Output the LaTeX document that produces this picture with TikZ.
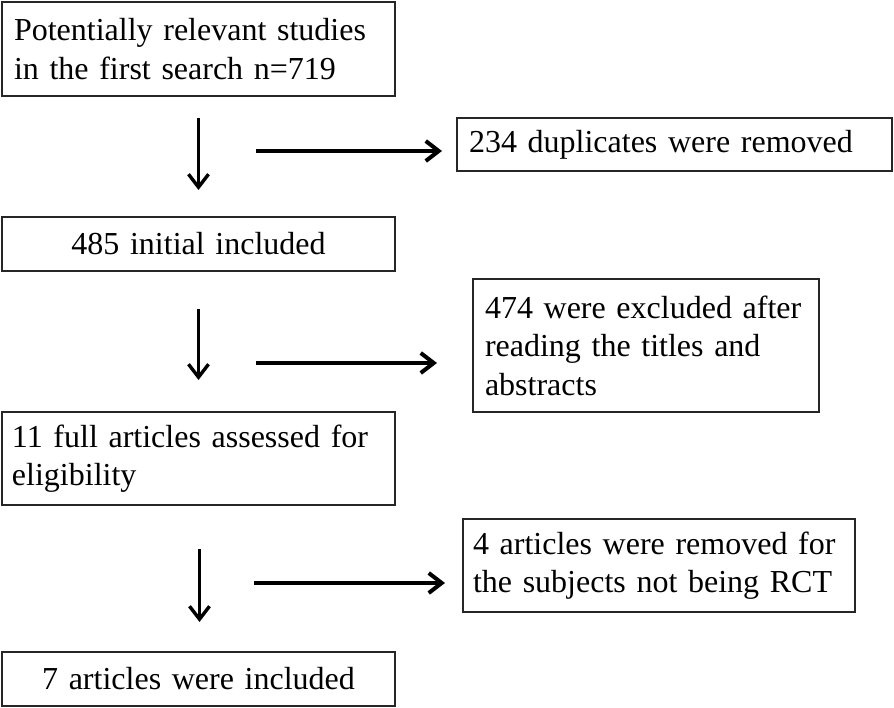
\documentclass[tikz,border=0pt]{standalone}
\usepackage{fontspec}
\setmainfont{Liberation Serif}
\usetikzlibrary{arrows.meta}

\tikzset{
    box/.style={draw=black!85, line width=1.3pt, anchor=north west, outer sep=0pt,
        inner xsep=12pt, inner ysep=0pt, font=\fontsize{32}{38.5}\selectfont, align=left},
    flow/.style={-{Straight Barb[length=13pt,width=20pt]}, line width=3.4pt},
    sideflow/.style={flow, line width=4pt}
}

\begin{document}
\begin{tikzpicture}[x=1pt,y=-1pt]
            \useasboundingbox (0,0) rectangle (894,708);
            \node[box, text width=369pt, minimum height=94pt] (search) at (2,2)
                {Potentially relevant studies\\in the first search n=719};
            \node[box, text width=411pt, minimum height=53pt] (dupl) at (457,118)
                {234 duplicates were removed};
            \node[box, text width=369pt, minimum height=54pt, align=center] (initial) at (2,217)
                {485 initial included};
            \node[box, text width=322pt, minimum height=133pt] (excl) at (473,279)
                {474 were excluded after\\reading the titles and\\abstracts};
            \node[box, text width=373pt, inner xsep=10pt, minimum height=93pt] (full) at (2,412)
                {11 full articles assessed for\\eligibility};
            \node[box, text width=372pt, inner xsep=10pt, minimum height=93pt] (rct) at (463,519)
                {4 articles were removed for\\the subjects not being RCT};
            \node[box, text width=369pt, minimum height=54pt, align=center] (final) at (2,652)
                {7 articles were included};

            \coordinate (dupstart) at (256,151);
            \coordinate (exclstart) at (256,363);
            \coordinate (rctstart) at (254,583);

            \draw[flow, shorten <=22pt, shorten >=27pt] (search.south) -- (initial.north);
            \draw[flow, shorten <=38pt, shorten >=32pt] (initial.south) -- (full.north);
            \draw[flow, shorten <=44pt, shorten >=30pt] ([xshift=1pt]full.south) -- ([xshift=1pt]final.north);
            \draw[sideflow, shorten >=15pt] (dupstart) -- (dupstart -| dupl.west);
            \draw[sideflow, shorten >=36pt] (exclstart) -- (exclstart -| excl.west);
            \draw[sideflow, shorten >=18pt] (rctstart) -- (rctstart -| rct.west);
        \end{tikzpicture}
\end{document}
